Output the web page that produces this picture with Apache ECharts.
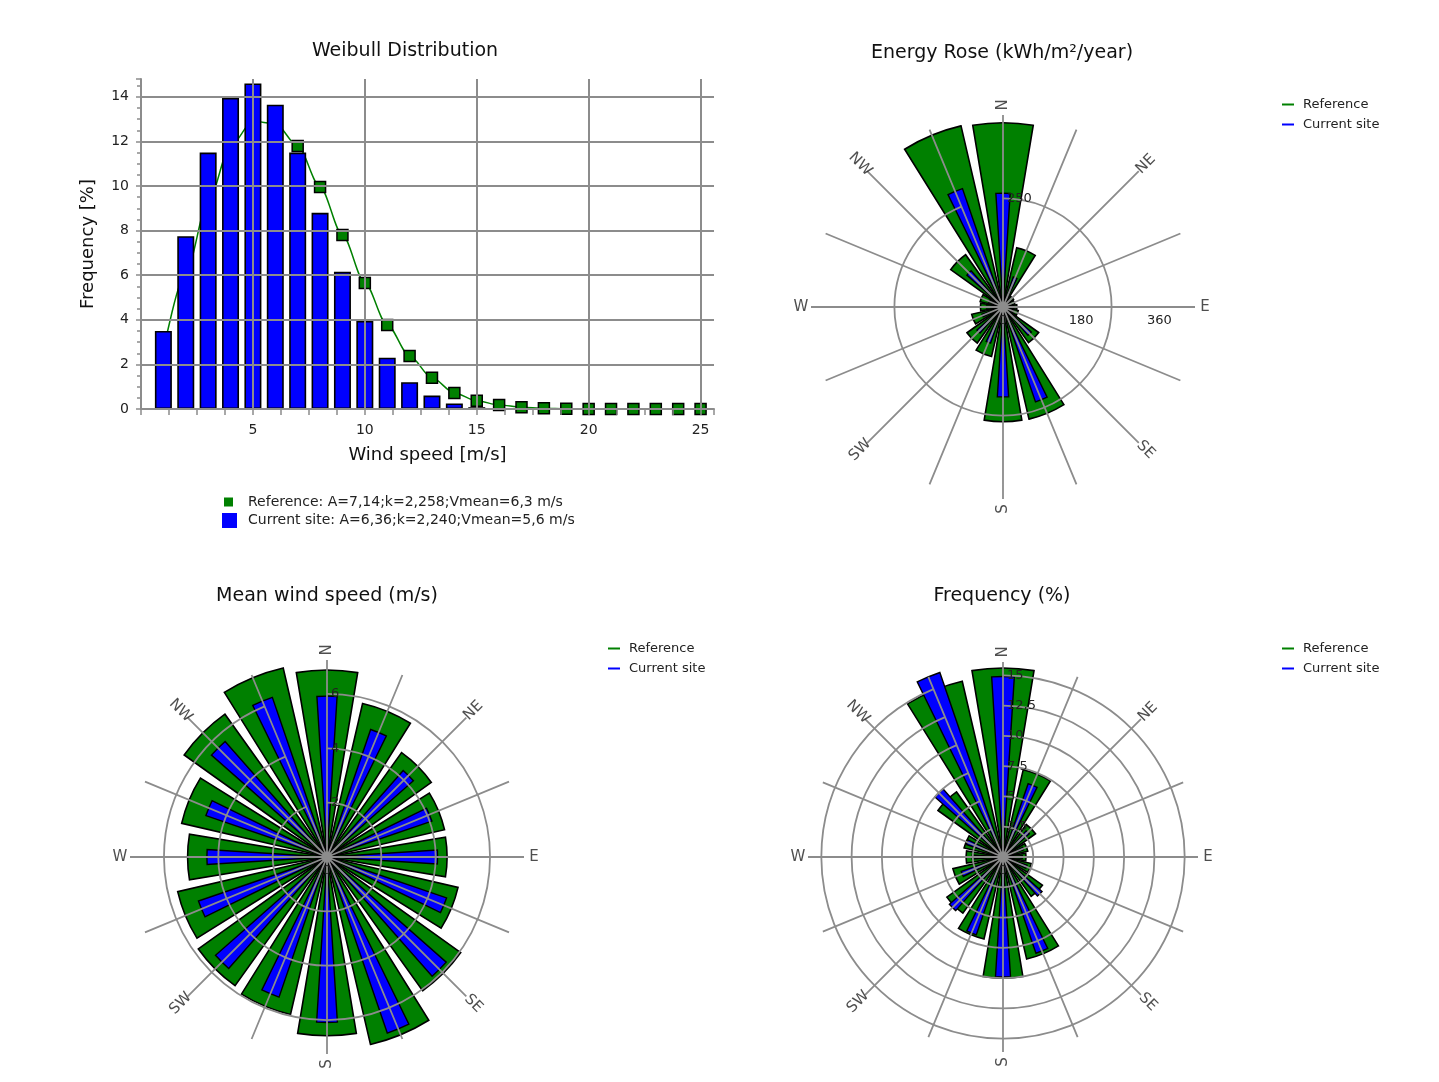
<!DOCTYPE html>
<html>
<head>
<meta charset="utf-8">
<title>Wind statistics</title>
<script src="https://cdn.jsdelivr.net/npm/echarts@6/dist/echarts.min.js"></script>
<style>
html, body { margin: 0; padding: 0; background: #fff; }
#main { width: 1439px; height: 1082px; }
</style>
</head>
<body>
<div id="main"></div>
<script>
// Weibull distribution
var windSpeed = [1, 2, 3, 4, 5, 6, 7, 8, 9, 10, 11, 12, 13, 14, 15, 16, 17, 18, 19, 20, 21, 22, 23, 24, 25];
var currentSiteFreq = [3.5, 7.75, 11.5, 13.95, 14.6, 13.65, 11.5, 8.8, 6.15, 3.95, 2.3, 1.2, 0.6, 0.25, 0.08];
var referenceFreq = [2.6, 6.1, 9.3, 11.8, 12.9, 12.8, 11.8, 9.96, 7.8, 5.65, 3.77, 2.38, 1.4, 0.72, 0.37, 0.18, 0.08, 0.03, 0.01, 0, 0, 0, 0, 0, 0];
var referenceInfo = 'A=7,14;k=2,258;Vmean=6,3 m/s';
var currentSiteInfo = 'A=6,36;k=2,240;Vmean=5,6 m/s';

// wind roses, 16 sectors clockwise from north
var sectors = ['N', 'NNE', 'NE', 'ENE', 'E', 'ESE', 'SE', 'SSE', 'S', 'SSW', 'SW', 'WSW', 'W', 'WNW', 'NW', 'NNW'];
var compass = ['N', 'NE', 'E', 'SE', 'S', 'SW', 'W', 'NW'];

var energyReference = [424, 140, 30, 28, 32, 36, 101, 265, 264, 117, 102, 74, 52, 54, 148, 428];
var energyCurrent = [262, 73, 20, 15, 20, 25, 87, 231, 207, 88, 80, 51, 38, 35, 111, 288];

var speedReference = [6.88, 5.8, 4.72, 4.44, 4.42, 4.95, 6.05, 7.08, 6.58, 5.95, 5.82, 5.64, 5.13, 5.49, 6.46, 7.14];
var speedCurrent = [5.92, 4.96, 4.24, 4.08, 4.07, 4.65, 5.85, 6.85, 6.09, 5.45, 5.47, 5.0, 4.42, 4.71, 5.67, 6.21];

var freqReference = [15.6, 7.4, 3.3, 2.1, 1.9, 2.4, 4.0, 8.65, 10.0, 6.95, 5.7, 4.25, 3.05, 3.3, 6.6, 14.9];
var freqCurrent = [14.9, 6.4, 2.9, 1.8, 1.6, 2.1, 4.3, 8.4, 9.9, 6.8, 5.9, 3.65, 2.55, 3.2, 7.5, 16.4];

var GREEN = '#008000';
var BLUE = '#0000ff';
var GRID = '#8c8c8c';
var NONE = 'rgba(0,0,0,0)';
var FONT = 'DejaVu Sans';

var myChart = echarts.init(document.getElementById('main'));

function repeatColor(n) {
    var a = [];
    for (var i = 0; i < n; i++) a.push(GRID);
    a.push(NONE);
    return a;
}

var option = {
    animation: false,
    textStyle: { fontFamily: FONT },
    title: [
        { text: 'Weibull Distribution', left: 405, top: 42 },
        { text: 'Energy Rose (kWh/m²/year)', left: 1002, top: 44 },
        { text: 'Mean wind speed (m/s)', left: 327, top: 587 },
        { text: 'Frequency (%)', left: 1002, top: 587 }
    ].map(function (t) {
        t.textAlign = 'center';
        t.padding = 0;
        t.textStyle = { fontFamily: FONT, fontSize: 19, fontWeight: 'normal', color: '#111' };
        return t;
    }),
    legend: [
        {
            left: 224, top: 495, padding: 0, itemWidth: 9, itemHeight: 9, selectedMode: false,
            data: [{ name: 'Reference', icon: 'rect', itemStyle: { color: GREEN, borderWidth: 0 } }],
            formatter: function (n) { return n + ': ' + referenceInfo; },
            textStyle: { fontSize: 14, color: '#222', padding: [0, 0, 0, 10] }
        },
        {
            left: 222, top: 513, padding: 0, itemWidth: 15, itemHeight: 15, selectedMode: false,
            data: [{ name: 'Current site', icon: 'rect', itemStyle: { color: BLUE, borderWidth: 0 } }],
            formatter: function (n) { return n + ': ' + currentSiteInfo; },
            textStyle: { fontSize: 14, color: '#222', padding: [0, 0, 0, 6] }
        }
    ],
    grid: { left: 141, right: 725, top: 79, bottom: 673 },
    xAxis: {
        type: 'value', min: 0, max: 25.6, interval: 1.25, z: 3,
        name: 'Wind speed [m/s]', nameLocation: 'middle', nameGap: 37,
        nameTextStyle: { fontSize: 18, color: '#111' },
        axisLine: { lineStyle: { color: GRID, width: 2 } },
        axisTick: { length: 6, lineStyle: { color: GRID, width: 1.5 } },
        axisLabel: {
            margin: 14, fontSize: 14, color: '#222',
            formatter: function (v) { return (v > 0 && v % 5 === 0) ? String(v) : ''; }
        },
        splitLine: { show: true, lineStyle: { color: [GRID, NONE, NONE, NONE], width: 2 } }
    },
    yAxis: {
        type: 'value', min: 0, max: 14.8, interval: 2, z: 3,
        name: 'Frequency [%]', nameLocation: 'middle', nameGap: 44,
        nameTextStyle: { fontSize: 18, color: '#111' },
        axisLine: { show: true, lineStyle: { color: GRID, width: 2 } },
        axisTick: { show: true, length: 5, lineStyle: { color: GRID, width: 1.5 } },
        minorTick: { show: true, splitNumber: 4, length: 4, lineStyle: { color: GRID, width: 1.5 } },
        axisLabel: {
            margin: 12, fontSize: 14, color: '#222',
            formatter: function (v) { return v <= 14 ? String(v) : ''; }
        },
        splitLine: { show: true, lineStyle: { color: repeatColor(8), width: 2 } }
    },
    polar: [],
    angleAxis: [],
    radiusAxis: [],
    series: [
        {
            name: 'Reference', type: 'line', z: 1,
            data: windSpeed.map(function (v, i) { return [v, referenceFreq[i]]; }),
            smooth: 0.3, smoothMonotone: 'x',
            symbol: 'rect', symbolSize: 11,
            lineStyle: { color: GREEN, width: 1.5 },
            itemStyle: { color: GREEN, borderColor: '#000', borderWidth: 1.5 }
        },
        {
            name: 'Current site', type: 'bar', z: 2, barWidth: 17,
            data: currentSiteFreq.map(function (v, i) { return [windSpeed[i], v]; }),
            itemStyle: { color: BLUE, borderColor: '#000', borderWidth: 1.6 }
        }
    ]
};

function hiddenAngle(idx, start) {
    return {
        polarIndex: idx, type: 'category', data: sectors, startAngle: start, boundaryGap: false,
        axisLine: { show: false }, axisTick: { show: false }, axisLabel: { show: false }, splitLine: { show: false }
    };
}

function addRose(cfg) {
    var a = option.polar.length;
    // grid + reference bars
    option.polar.push({ center: cfg.center, radius: cfg.radius });
    option.angleAxis.push({
        polarIndex: a, type: 'category', data: sectors, startAngle: 90, boundaryGap: false, z: 10,
        axisLine: { show: false }, axisTick: { show: false }, axisLabel: { show: false },
        splitLine: { show: true, lineStyle: { color: GRID, width: 1.8 } }
    });
    option.radiusAxis.push({
        polarIndex: a, min: 0, max: cfg.max, interval: cfg.interval, z: 10,
        axisLine: { show: false }, axisTick: { show: false },
        splitLine: { show: true, lineStyle: { color: repeatColor(Math.floor(cfg.max / cfg.interval) + 1), width: 1.8 } },
        axisLabel: {
            formatter: cfg.northLabel, margin: -4, align: 'left', verticalAlign: 'middle',
            fontSize: 13, color: '#222'
        }
    });
    option.series.push({
        name: 'Reference', type: 'bar', coordinateSystem: 'polar', polarIndex: a, z: 2,
        data: cfg.reference, barWidth: '84%',
        itemStyle: { color: GREEN, borderColor: '#000', borderWidth: 1.6 }
    });

    // current site bars
    option.polar.push({ center: cfg.center, radius: cfg.radius });
    option.angleAxis.push(hiddenAngle(a + 1, 90));
    option.radiusAxis.push({
        polarIndex: a + 1, min: 0, max: cfg.max, show: false,
        axisLine: { show: false }, axisTick: { show: false }, axisLabel: { show: false }, splitLine: { show: false }
    });
    option.series.push({
        name: 'Current site', type: 'bar', coordinateSystem: 'polar', polarIndex: a + 1, z: 3,
        data: cfg.current, barWidth: '32%',
        itemStyle: { color: BLUE, borderColor: '#000', borderWidth: 1.4 }
    });

    // labels along the east spoke
    option.polar.push({ center: cfg.center, radius: cfg.radius });
    option.angleAxis.push(hiddenAngle(a + 2, 0));
    option.radiusAxis.push({
        polarIndex: a + 2, min: 0, max: cfg.max, interval: cfg.eastInterval, z: 10,
        axisLine: { show: false }, axisTick: { show: false }, splitLine: { show: false },
        axisLabel: {
            formatter: cfg.eastLabel, margin: -14, align: 'center', verticalAlign: 'middle',
            fontSize: 13, color: '#222'
        }
    });

    // hub where the spokes meet
    option.series.push({
        type: 'scatter', coordinateSystem: 'polar', polarIndex: a, z: 11, silent: true,
        symbol: 'circle', symbolSize: 11, itemStyle: { color: GRID },
        data: [[0, 'N']]
    });

    // compass point names
    var labelR = cfg.max * (cfg.radius + 10) / cfg.radius;
    option.series.push({
        type: 'scatter', coordinateSystem: 'polar', polarIndex: a, z: 11, silent: true, clip: false,
        symbolSize: 1, itemStyle: { color: NONE },
        label: { show: true, position: 'inside', formatter: '{b}', fontSize: 15, color: '#222' },
        data: compass.map(function (d) {
            var ang = 90 - 22.5 * sectors.indexOf(d);
            while (ang <= -180) ang += 360;
            var rot = ang > 90 ? ang - 180 : (ang <= -90 ? ang + 180 : ang);
            return { name: d, value: [labelR, d], label: { rotate: rot } };
        })
    });
}

function roseLegend(left, top) {
    return {
        left: left, top: top, padding: 0, orient: 'vertical', itemWidth: 12, itemHeight: 2, itemGap: 7,
        selectedMode: false,
        textStyle: { fontSize: 13, color: '#222', padding: [0, 0, 0, 4] },
        data: [
            { name: 'Reference', icon: 'rect', itemStyle: { color: GREEN, borderWidth: 0 } },
            { name: 'Current site', icon: 'rect', itemStyle: { color: BLUE, borderWidth: 0 } }
        ]
    };
}

addRose({
    center: [1003, 307], radius: 192, max: 442, interval: 250, eastInterval: 180,
    reference: energyReference, current: energyCurrent,
    northLabel: function (v) { return v === 250 ? '250' : ''; },
    eastLabel: function (v) { return v <= 360 ? String(v) : ''; }
});
addRose({
    center: [327, 857], radius: 197, max: 7.25, interval: 2, eastInterval: 7,
    reference: speedReference, current: speedCurrent,
    northLabel: function (v) { return (v > 0 && v < 7) ? String(v) : ''; },
    eastLabel: function (v) { return v === 0 ? '0' : ''; }
});
addRose({
    center: [1003, 857], radius: 195, max: 16.1, interval: 2.5, eastInterval: 15,
    reference: freqReference, current: freqCurrent,
    northLabel: function (v) { return (v > 0 && v <= 15) ? String(v).replace('.', ',') : ''; },
    eastLabel: function (v) { return v === 0 ? '0' : ''; }
});

option.legend.push(roseLegend(1282, 98));
option.legend.push(roseLegend(608, 642));
option.legend.push(roseLegend(1282, 642));

myChart.setOption(option);
</script>
</body>
</html>
